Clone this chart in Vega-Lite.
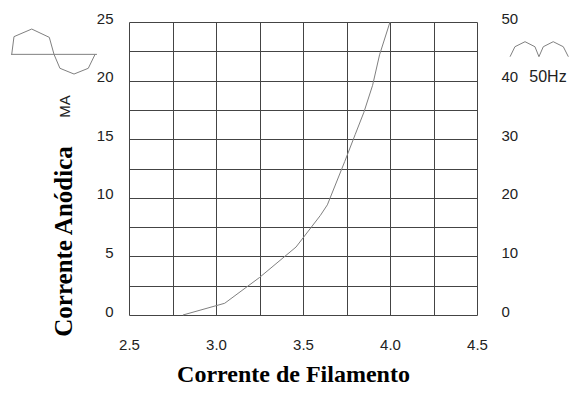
{
  "$schema": "https://vega.github.io/schema/vega-lite/v6.json",
  "width": 348,
  "height": 293,
  "autosize": "none",
  "padding": {"left": 129, "top": 22, "right": 93, "bottom": 81},
  "background": "white",
  "config": {
    "view": {"stroke": null},
    "axis": {"labelFont": "Liberation Sans", "labelFontSize": 15, "labelColor": "#222", "titleFont": "Liberation Serif", "titleFontWeight": "bold", "titleFontSize": 24, "titleColor": "#000", "domain": false, "ticks": false, "gridColor": "#444", "gridOpacity": 1, "gridWidth": 1}
  },
  "datasets": {
    "curve": [
      {"filament": 2.81, "anode": 0},
      {"filament": 3.05, "anode": 1.0},
      {"filament": 3.25, "anode": 3.2},
      {"filament": 3.46, "anode": 5.8},
      {"filament": 3.6, "anode": 8.5},
      {"filament": 3.64, "anode": 9.4},
      {"filament": 3.74, "anode": 13.1},
      {"filament": 3.8, "anode": 15.4},
      {"filament": 3.85, "anode": 17.3},
      {"filament": 3.9, "anode": 19.6},
      {"filament": 3.94, "anode": 22.2},
      {"filament": 4.0, "anode": 25}
    ],
    "icons": [
      {"g": "axis", "i": 0, "x": 1.822, "y": 22.24},
      {"g": "axis", "i": 1, "x": 2.316, "y": 22.24},
      {"g": "sine", "i": 0, "x": 1.826, "y": 22.24},
      {"g": "sine", "i": 1, "x": 1.839, "y": 23.75},
      {"g": "sine", "i": 2, "x": 1.941, "y": 24.4},
      {"g": "sine", "i": 3, "x": 2.042, "y": 23.69},
      {"g": "sine", "i": 4, "x": 2.069, "y": 22.24},
      {"g": "sine", "i": 5, "x": 2.103, "y": 21.05},
      {"g": "sine", "i": 6, "x": 2.184, "y": 20.56},
      {"g": "sine", "i": 7, "x": 2.266, "y": 21.05},
      {"g": "sine", "i": 8, "x": 2.305, "y": 22.24},
      {"g": "rect", "i": 0, "x": 4.69, "y": 22.04},
      {"g": "rect", "i": 1, "x": 4.718, "y": 22.89},
      {"g": "rect", "i": 2, "x": 4.776, "y": 23.32},
      {"g": "rect", "i": 3, "x": 4.833, "y": 22.89},
      {"g": "rect", "i": 4, "x": 4.856, "y": 22.04},
      {"g": "rect", "i": 5, "x": 4.881, "y": 22.89},
      {"g": "rect", "i": 6, "x": 4.938, "y": 23.32},
      {"g": "rect", "i": 7, "x": 4.996, "y": 22.89},
      {"g": "rect", "i": 8, "x": 5.025, "y": 22.04}
    ],
    "unit": [{"label": "MA", "x": 2.135, "y": 17.8}],
    "freq": [{"label": "50Hz", "x": 4.908, "y": 20.3}]
  },
  "layer": [
    {
      "data": {"name": "curve"},
      "mark": {"type": "line", "color": "#808080", "strokeWidth": 1},
      "encoding": {
        "x": {"field": "filament", "type": "quantitative", "scale": {"domain": [2.5, 4.5], "nice": false, "zero": false},
          "axis": {"values": [2.5, 2.75, 3.0, 3.25, 3.5, 3.75, 4.0, 4.25, 4.5], "labelExpr": "(datum.value * 4) % 2 == 0 ? format(datum.value, '.1f') : ''", "labelPadding": 22, "labelAlign": "center", "title": "Corrente de Filamento", "titleX": 164, "titleY": 66, "titleBaseline": "alphabetic", "titleAnchor": "middle", "titleAlign": "center", "labelFlush": false, "labelOverlap": false}},
        "y": {"field": "anode", "type": "quantitative", "scale": {"domain": [0, 25], "nice": false},
          "axis": {"orient": "left", "values": [0, 2.5, 5, 7.5, 10, 12.5, 15, 17.5, 20, 22.5, 25], "labelExpr": "datum.value % 5 == 0 ? format(datum.value, 'd') : ''", "labelPadding": 16, "labelOffset": -4, "title": "Corrente Anódica", "titleFontSize": 25, "titleAngle": 270, "titleX": -66, "titleY": 219, "titleAlign": "center", "titleBaseline": "middle", "labelOverlap": false, "labelFlush": false}}
      }
    },
    {
      "data": {"name": "icons"},
      "mark": {"type": "line", "color": "#808080", "strokeWidth": 1, "clip": false},
      "encoding": {
        "x": {"field": "x", "type": "quantitative"},
        "y": {"field": "y", "type": "quantitative",
          "axis": {"orient": "right", "grid": false, "values": [0, 5, 10, 15, 20, 25], "labelExpr": "format(datum.value * 2, 'd')", "labelPadding": 24, "labelAlign": "left", "labelOffset": -4, "title": null, "labelOverlap": false, "labelFlush": false}},
        "detail": {"field": "g"},
        "order": {"field": "i"}
      }
    },
    {
      "data": {"name": "unit"},
      "mark": {"type": "text", "angle": 270, "font": "Liberation Sans", "fontSize": 15, "color": "#222", "clip": false},
      "encoding": {
        "x": {"field": "x", "type": "quantitative"},
        "y": {"field": "y", "type": "quantitative", "axis": null},
        "text": {"field": "label"}
      }
    },
    {
      "data": {"name": "freq"},
      "mark": {"type": "text", "font": "Liberation Sans", "fontSize": 16, "color": "#222", "clip": false},
      "encoding": {
        "x": {"field": "x", "type": "quantitative"},
        "y": {"field": "y", "type": "quantitative", "axis": null},
        "text": {"field": "label"}
      }
    }
  ],
  "resolve": {"axis": {"y": "independent"}}
}
